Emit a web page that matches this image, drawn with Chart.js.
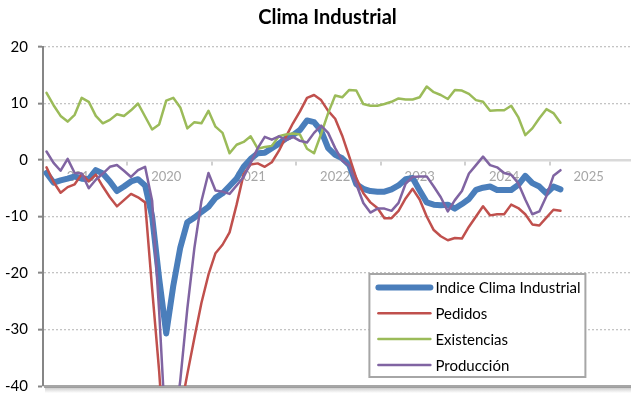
<!DOCTYPE html>
<html lang="es">
<head>
<meta charset="utf-8">
<title>Clima Industrial</title>
<script src="https://cdn.jsdelivr.net/npm/chart.js@4.4.1/dist/chart.umd.min.js"></script>
<style>
    html, body { margin: 0; padding: 0; background: #fff; overflow: hidden; }
</style>
</head>
<body>
<canvas id="climaChart" width="655" height="394"></canvas>
<script>
// ===============================
// Clima Industrial - monthly series, Jan 2019 .. Feb 2025
// ===============================

const years = ["2019", "2020", "2021", "2022", "2023", "2024", "2025"];

const indiceClima = [
    -2.3, -4.0, -3.6, -3.3, -2.9, -3.3, -3.4, -1.8, -2.4, -3.8, -5.5, -4.7,
    -3.8, -3.4, -4.5, -10.0, -21.0, -30.7, -22.3, -15.5, -11.0, -10.2, -9.2, -8.3,
    -6.7, -5.9, -4.6, -3.3, -1.2, 0.2, 1.2, 1.3, 2.1, 2.9, 3.8, 4.4,
    5.3, 7.0, 6.7, 5.2, 2.1, 0.9, 0.3, -0.9, -4.3, -5.1, -5.5, -5.6,
    -5.6, -5.2, -4.5, -3.4, -3.2, -5.4, -7.5, -7.9, -8.0, -7.9, -8.6, -7.8,
    -6.9, -5.3, -4.9, -4.7, -5.3, -5.3, -5.3, -4.4, -2.8, -4.1, -4.7, -5.9,
    -4.7, -5.2,
];

const pedidos = [
    -1.3, -3.9, -5.8, -4.8, -4.3, -2.5, -3.8, -2.6, -4.7, -6.6, -8.2, -7.1,
    -6.0, -6.6, -7.5, -22.8, -37.4, -56.0, -50.0, -44.5, -37.9, -31.5, -25.3, -20.3,
    -16.5, -15.0, -12.8, -7.9, -2.5, -0.8, -0.6, -1.2, -0.4, 1.6, 4.1, 6.5,
    8.6, 11.0, 11.5, 10.6, 8.7, 7.3, 4.3, 0.6, -3.2, -5.9, -7.5, -8.5,
    -10.3, -10.3, -9.0, -6.8, -5.1, -7.0, -10.0, -12.4, -13.5, -14.2, -13.8, -13.9,
    -11.8, -10.0, -8.2, -9.8, -9.6, -9.6, -7.9, -8.5, -9.6, -11.4, -11.6, -10.2,
    -8.8, -9.0,
];

const existencias = [
    11.9, 9.7, 7.8, 6.8, 8.0, 11.0, 10.3, 7.8, 6.5, 7.1, 8.1, 7.8,
    8.8, 10.0, 7.7, 5.4, 6.3, 10.5, 11.0, 9.3, 5.6, 6.7, 6.5, 8.7,
    5.9, 4.8, 1.2, 2.7, 3.2, 4.2, 2.0, 2.3, 2.5, 4.2, 4.5, 4.7,
    4.5, 2.0, 1.2, 4.6, 8.3, 11.4, 11.1, 12.4, 12.3, 9.9, 9.6, 9.6,
    9.9, 10.3, 10.9, 10.7, 10.7, 11.1, 13.0, 12.0, 11.5, 10.8, 12.4, 12.3,
    11.7, 10.6, 10.3, 8.7, 8.8, 8.8, 9.6, 7.6, 4.4, 5.6, 7.4, 9.0,
    8.3, 6.6,
];

const produccion = [
    1.5, -0.5, -1.9, 0.2, -2.3, -2.4, -5.0, -3.5, -2.4, -1.2, -0.9, -1.9,
    -3.0, -1.8, -1.2, -7.2, -26.8, -50.0, -49.0, -39.0, -26.3, -15.6, -7.3, -2.3,
    -5.4, -5.6, -6.0, -4.5, -3.0, -0.5, 2.1, 4.1, 3.6, 4.2, 3.5, 4.1,
    3.4, 3.1, 4.8, 6.1, 4.8, 2.1, -0.1, -1.0, -4.3, -7.6, -9.3, -8.6,
    -8.6, -9.0, -7.6, -4.2, -3.0, -2.9, -2.9, -4.7, -6.6, -9.1, -7.1, -5.5,
    -2.4, -0.9, 0.6, -0.9, -1.3, -2.3, -2.6, -4.1, -7.0, -9.6, -9.1, -6.4,
    -2.8, -1.8,
];

const yTicks = [20, 10, 0, -10, -20, -30, -40];

const FONT = "Lato, 'Open Sans', sans-serif";

// one slot per month, the year label sits in the middle of its twelve slots
const monthLabels = [];
years.forEach((y) => {
    for (let m = 1; m <= 12; m++) monthLabels.push(y + "-" + String(m).padStart(2, "0"));
});

// Title centred on the whole canvas, not on the padded layout box
const titleSpan = {
    id: "titleSpan",
    afterLayout(chart) {
        if (chart.titleBlock) {
            chart.titleBlock.left = 0;
            chart.titleBlock.right = chart.width;
        }
    },
};

// Legend box drawn inside the plot, bottom right
const insideLegend = {
    id: "insideLegend",
    afterDatasetsDraw(chart) {
        const { ctx, chartArea } = chart;
        const w = 216, h = 103;
        const x = chartArea.right - 49 - w;
        const y = chartArea.bottom - 9 - h;

        ctx.save();
        ctx.fillStyle = "#ffffff";
        ctx.fillRect(x, y, w, h);
        ctx.strokeStyle = "#a6a6a6";
        ctx.lineWidth = 2;
        ctx.strokeRect(x, y, w, h);

        ctx.font = "15px " + FONT;
        ctx.textBaseline = "middle";
        ctx.lineCap = "round";
        chart.data.datasets.forEach((ds, i) => {
            const cy = y + 13.5 + i * 25.8;
            ctx.strokeStyle = ds.borderColor;
            ctx.lineWidth = ds.borderWidth;
            ctx.beginPath();
            ctx.moveTo(x + 9, cy);
            ctx.lineTo(x + 61, cy);
            ctx.stroke();
            ctx.fillStyle = "#000000";
            ctx.fillText(ds.label, x + 66, cy + 1);
        });
        ctx.restore();
    },
};

// Soft shadow under the bottom edge of the plot
const plotShadow = {
    id: "plotShadow",
    afterDraw(chart) {
        const { ctx, chartArea } = chart;
        const g = ctx.createLinearGradient(0, chartArea.bottom + 1, 0, chartArea.bottom + 7);
        g.addColorStop(0, "rgba(150,150,150,0.55)");
        g.addColorStop(1, "rgba(150,150,150,0)");
        ctx.save();
        ctx.fillStyle = g;
        ctx.fillRect(chartArea.left + 2, chartArea.bottom + 1, chartArea.right - chartArea.left, 6);
        ctx.restore();
    },
};

const line = (label, data, color, width) => ({
    label: label,
    data: data,
    borderColor: color,
    backgroundColor: color,
    borderWidth: width,
    pointRadius: 0,
    tension: 0,
    fill: false,
    borderJoinStyle: "round",
    borderCapStyle: "round",
});

const datasets = [
    { ...line("Indice Clima Industrial", indiceClima, "#4a7ebb", 6), order: 4 },
    { ...line("Pedidos", pedidos, "#c0504d", 2.5), order: 3 },
    { ...line("Existencias", existencias, "#9bbb59", 2.5), order: 2 },
    { ...line("Producción", produccion, "#8064a2", 2.5), order: 1 },
];

new Chart(document.getElementById("climaChart"), {
    type: "line",
    data: { labels: monthLabels, datasets: datasets },
    plugins: [titleSpan, insideLegend, plotShadow],
    options: {
        responsive: false,
        animation: false,
        layout: { padding: { left: 0, right: 20.6, top: 0, bottom: 8 } },
        plugins: {
            legend: { display: false },
            tooltip: { enabled: false },
            title: {
                display: true,
                text: "Clima Industrial",
                color: "#000000",
                font: { family: FONT, size: 20, weight: "bold" },
                padding: { top: 6, bottom: 17 },
            },
        },
        scales: {
            x: {
                type: "category",
                position: { y: 0 },
                offset: true,
                grid: {
                    offset: true,
                    drawOnChartArea: false,
                    color: (c) => (c.index % 12 === 0 ? "#d0d0d0" : "rgba(0,0,0,0)"),
                    lineWidth: 2,
                    tickLength: 4,
                },
                border: { color: "#d9d9d9", width: 2.5 },
                ticks: {
                    autoSkip: false,
                    maxRotation: 0,
                    minRotation: 0,
                    color: "#a6a6a6",
                    font: { family: FONT, size: 13 },
                    padding: 5,
                    callback: (v, i) => (i % 12 === 5 ? years[Math.floor(i / 12)] : ""),
                },
            },
            y: {
                min: yTicks[yTicks.length - 1],
                max: yTicks[0],
                afterBuildTicks: (s) => { s.ticks = yTicks.map((v) => ({ value: v })); },
                afterFit: (s) => {
                    s.width = 43;
                    s.paddingTop = 0;
                    s.paddingBottom = 0;
                },
                ticks: {
                    color: "#000000",
                    font: { family: FONT, size: 15 },
                    padding: 10,
                },
                grid: {
                    color: (c) => {
                        const v = c.tick ? c.tick.value : null;
                        if (v === -40) return "#a6a6a6";
                        if (v === 0) return "#d9d9d9";
                        return "#c4c4c4";
                    },
                    lineWidth: (c) => (c.tick && c.tick.value === -40 ? 3 : 1.3),
                    tickColor: "#868686",
                    tickWidth: 2,
                    tickLength: 5,
                },
                border: {
                    color: "#868686",
                    width: 2,
                    dash: (c) => (c.tick && c.tick.value !== -40 && c.tick.value !== 0 ? [2, 2] : []),
                },
            },
        },
    },
});
</script>
</body>
</html>
